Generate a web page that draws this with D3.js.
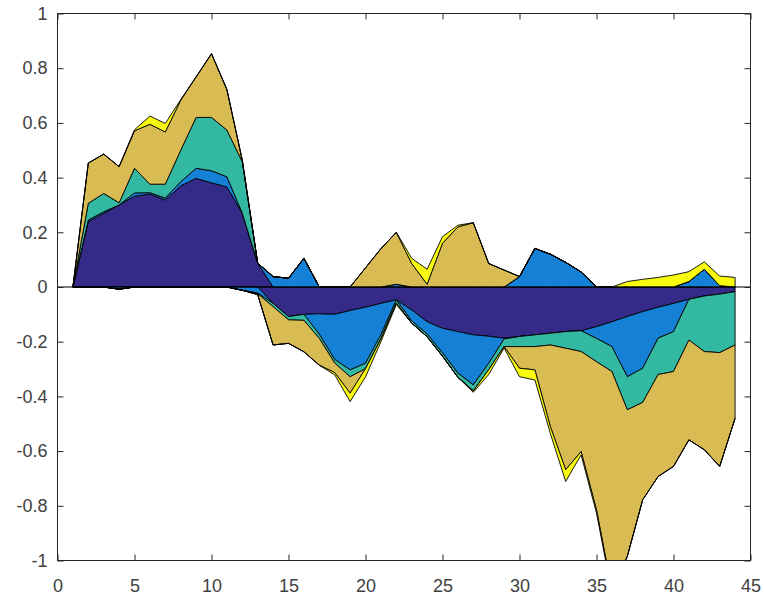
<!DOCTYPE html>
<html>
<head>
<meta charset="utf-8">
<script src="https://cdn.jsdelivr.net/npm/d3@7"></script>
<style>
  body { margin: 0; background: #fff; }
  svg { display: block; }
</style>
</head>
<body>
<svg id="chart"></svg>
<script>
// x positions 1..44
const steps = d3.range(1, 45)

// one value per step for each series (a step is either positive or negative)
const purple = [0, 0.239, 0.269, 0.300, 0.332, 0.340, 0.318, 0.370, 0.397, 0.381, 0.366, 0.270, 0.087, -0.060, -0.108, -0.100, -0.098, -0.100, -0.086, -0.074, -0.060, -0.047, -0.084, -0.127, -0.151, -0.163, -0.175, -0.180, -0.187, -0.181, -0.175, -0.169, -0.163, -0.160, -0.145, -0.127, -0.108, -0.090, -0.074, -0.060, -0.045, -0.033, -0.026, -0.017]
const blue = [0, 0.006, 0.006, -0.008, 0.012, 0.005, 0.007, 0.015, 0.037, 0.044, 0.037, -0.012, -0.022, 0.038, 0.032, 0.105, -0.075, -0.165, -0.217, -0.205, -0.115, 0.010, -0.040, -0.045, -0.090, -0.152, -0.183, -0.099, -0.003, 0.038, 0.141, 0.120, 0.090, 0.055, -0.043, -0.091, -0.220, -0.207, -0.113, -0.103, 0.020, 0.065, 0.005, 0]
const teal = [0, 0.061, 0.067, 0.008, 0.090, 0.031, 0.051, 0.115, 0.186, 0.195, 0.171, 0.188, -0.003, -0.012, -0.012, -0.022, -0.015, -0.013, -0.025, -0.020, -0.015, -0.012, -0.008, -0.010, -0.012, -0.015, -0.022, -0.024, -0.028, -0.037, -0.043, -0.043, -0.061, -0.076, -0.085, -0.091, -0.121, -0.125, -0.133, -0.146, -0.149, -0.203, -0.214, -0.195]
const gold = [0, 0.147, 0.144, 0.132, 0.137, 0.219, 0.191, 0.183, 0.148, 0.233, 0.148, 0.005, -0.003, -0.140, -0.086, -0.115, -0.098, -0.035, -0.060, 0.070, 0.140, 0.190, 0.086, 0.010, 0.160, 0.220, 0.235, 0.086, 0.062, -0.079, -0.085, -0.298, -0.444, -0.366, -0.542, -0.800, -0.536, -0.356, -0.373, -0.347, -0.365, -0.359, -0.416, -0.268]
const yellow = [0, 0, 0, 0, 0.004, 0.030, 0.031, 0.002, 0, 0, 0, 0, 0, 0, 0, 0, 0, -0.008, -0.031, -0.030, -0.010, -0.005, 0.019, 0.055, 0.024, 0.006, -0.005, -0.017, -0.005, -0.031, -0.037, -0.025, -0.043, -0.012, -0.012, -0.010, 0.020, 0.028, 0.035, 0.044, 0.036, 0.027, 0.035, 0.035]

const keys = ["purple", "blue", "teal", "gold", "yellow"]
const colors = ["#352a87", "#1481d6", "#33b8a1", "#d9bb53", "#f9fb0e"]

const xTicks = d3.range(0, 46, 5)
const yTicks = [-1, -0.8, -0.6, -0.4, -0.2, 0, 0.2, 0.4, 0.6, 0.8, 1]

const width = 764
const height = 596
const margin = { top: 13.5, right: 13.5, bottom: 35.5, left: 57.5 }

const svg = d3.select("#chart").attr("width", width).attr("height", height)

const x = d3.scaleLinear().domain([0, 45]).range([margin.left, width - margin.right])
const y = d3.scaleLinear().domain([-1, 1]).range([height - margin.bottom, margin.top])

// table built from the arrays
const values = { purple, blue, teal, gold, yellow }
const rows = steps.map((s, i) => {
  const r = { step: s }
  keys.forEach((k) => (r[k] = values[k][i]))
  return r
})
const posRows = rows.map((r) => {
  const o = { step: r.step }
  keys.forEach((k) => (o[k] = Math.max(r[k], 0)))
  return o
})
const negRows = rows.map((r) => {
  const o = { step: r.step }
  keys.forEach((k) => (o[k] = Math.min(r[k], 0)))
  return o
})

const stack = d3.stack().keys(keys)
const posStack = stack(posRows)
const negStack = stack(negRows)

const area = d3
  .area()
  .x((d) => x(d.data.step))
  .y0((d) => y(d[0]))
  .y1((d) => y(d[1]))

svg
  .append("clipPath")
  .attr("id", "plot-clip")
  .append("rect")
  .attr("x", x(0))
  .attr("y", y(1))
  .attr("width", x(45) - x(0))
  .attr("height", y(-1) - y(1))

const plot = svg.append("g").attr("clip-path", "url(#plot-clip)")

keys.forEach((k, i) => {
  plot
    .append("path")
    .attr("d", area(posStack[i]))
    .attr("fill", colors[i])
    .attr("stroke", "#000")
    .attr("stroke-width", 0.9)
    .attr("stroke-linejoin", "round")
  plot
    .append("path")
    .attr("d", area(negStack[i]))
    .attr("fill", colors[i])
    .attr("stroke", "#000")
    .attr("stroke-width", 0.9)
    .attr("stroke-linejoin", "round")
})

// baseline
plot
  .append("line")
  .attr("x1", x(0))
  .attr("x2", x(45))
  .attr("y1", y(0))
  .attr("y2", y(0))
  .attr("stroke", "#000")
  .attr("stroke-width", 1)

// axes, ticks pointing inward
const fmt = (d) => String(+d.toFixed(1))
const axisColor = "#262626"
const labelFont = "'Liberation Sans', Arial, Helvetica, sans-serif"

const styleAxis = (g) => {
  g.select(".domain").remove()
  g.selectAll(".tick line").attr("stroke", axisColor)
  g.selectAll(".tick text")
    .attr("fill", "#404040")
    .attr("font-size", 18)
    .attr("font-family", labelFont)
}

svg
  .append("g")
  .attr("transform", `translate(0,${y(-1)})`)
  .call(d3.axisBottom(x).tickValues(xTicks).tickFormat(fmt).tickSize(-6).tickPadding(19))
  .call(styleAxis)

svg
  .append("g")
  .attr("transform", `translate(0,${y(1)})`)
  .call(d3.axisTop(x).tickValues(xTicks).tickFormat("").tickSize(-6))
  .call(styleAxis)

svg
  .append("g")
  .attr("transform", `translate(${x(0)},0)`)
  .call(d3.axisLeft(y).tickValues(yTicks).tickFormat(fmt).tickSize(-6).tickPadding(10))
  .call(styleAxis)

svg
  .append("g")
  .attr("transform", `translate(${x(45)},0)`)
  .call(d3.axisRight(y).tickValues(yTicks).tickFormat("").tickSize(-6))
  .call(styleAxis)

svg
  .append("rect")
  .attr("x", x(0))
  .attr("y", y(1))
  .attr("width", x(45) - x(0))
  .attr("height", y(-1) - y(1))
  .attr("fill", "none")
  .attr("stroke", axisColor)
  .attr("stroke-width", 1)
</script>
</body>
</html>
